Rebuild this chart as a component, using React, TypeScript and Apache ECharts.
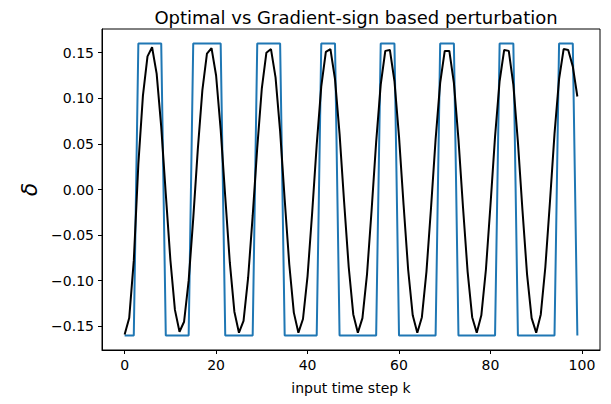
import React, { useEffect, useRef } from "react";
import * as echarts from "echarts";

// input time steps k = 0..99
const steps: number[] = Array.from({ length: 100 }, (_, i) => i);

// optimal perturbation (black curve)
const optimal: number[] = [
  -0.159, -0.141, -0.078, 0.028, 0.103, 0.146, 0.156, 0.127, 0.069, -0.005,
  -0.077, -0.132, -0.156, -0.145, -0.1, -0.032, 0.044, 0.109, 0.149, 0.155,
  0.125, 0.066, -0.008, -0.08, -0.134, -0.157, -0.144, -0.097, -0.029, 0.046,
  0.111, 0.15, 0.154, 0.123, 0.064, -0.011, -0.082, -0.135, -0.157, -0.142,
  -0.095, -0.026, 0.049, 0.113, 0.151, 0.154, 0.121, 0.061, -0.014, -0.085,
  -0.137, -0.157, -0.141, -0.093, -0.023, 0.052, 0.115, 0.152, 0.153, 0.119,
  0.058, -0.017, -0.088, -0.138, -0.157, -0.14, -0.09, -0.02, 0.055, 0.117,
  0.152, 0.152, 0.117, 0.055, -0.02, -0.09, -0.14, -0.157, -0.138, -0.088,
  -0.017, 0.058, 0.119, 0.153, 0.152, 0.115, 0.052, -0.023, -0.093, -0.141,
  -0.157, -0.137, -0.085, -0.014, 0.061, 0.121, 0.154, 0.153, 0.135, 0.102,
];

// gradient-sign perturbation (blue square wave)
const gradientSign: number[] = [
  -0.16, -0.16, -0.16, 0.16, 0.16, 0.16, 0.16, 0.16, 0.16, -0.16,
  -0.16, -0.16, -0.16, -0.16, -0.16, 0.16, 0.16, 0.16, 0.16, 0.16,
  0.16, 0.16, -0.16, -0.16, -0.16, -0.16, -0.16, -0.16, -0.16, 0.16,
  0.16, 0.16, 0.16, 0.16, 0.16, -0.16, -0.16, -0.16, -0.16, -0.16,
  -0.16, -0.16, -0.16, 0.16, 0.16, 0.16, 0.16, -0.16, -0.16, -0.16,
  -0.16, -0.16, -0.16, -0.16, -0.16, -0.16, 0.16, 0.16, 0.16, 0.16,
  -0.16, -0.16, -0.16, -0.16, -0.16, -0.16, -0.16, -0.16, -0.16, 0.16,
  0.16, 0.16, 0.16, -0.16, -0.16, -0.16, -0.16, -0.16, -0.16, -0.16,
  -0.16, -0.16, 0.16, 0.16, 0.16, 0.16, -0.16, -0.16, -0.16, -0.16,
  -0.16, -0.16, -0.16, -0.16, -0.16, 0.16, 0.16, 0.16, 0.16, -0.16,
];

const xTicks: number[] = [0, 20, 40, 60, 80, 100];
const yTicks: number[] = [-0.15, -0.1, -0.05, 0, 0.05, 0.1, 0.15];

const FONT = "DejaVu Sans";

export default function App() {
  const ref = useRef<HTMLDivElement>(null);
  useEffect(() => {
    if (!ref.current) return;
    const chart = echarts.init(ref.current, null, { renderer: "svg" });
    const tickText = { color: "#000", fontSize: 14, fontFamily: FONT };
    chart.setOption({
      animation: false,
      title: {
        text: "Optimal vs Gradient-sign based perturbation",
        left: 351,
        top: 3,
        textAlign: "center",
        textStyle: { fontFamily: FONT, fontSize: 18, fontWeight: "normal", color: "#000" },
      },
      grid: {
        left: 102,
        right: 11,
        top: 29,
        bottom: 54,
        show: true,
        borderColor: "#000",
        borderWidth: 1,
        backgroundColor: "transparent",
      },
      xAxis: {
        type: "value",
        min: -4.95,
        max: 103.95,
        splitLine: { show: false },
        axisLine: { show: true, onZero: false, lineStyle: { color: "#000", width: 1 } },
        axisTick: { show: true, length: 4, customValues: xTicks, lineStyle: { color: "#000" } },
        axisLabel: { customValues: xTicks, margin: 8, ...tickText },
        name: "input time step k",
        nameLocation: "middle",
        nameGap: 31,
        nameTextStyle: { ...tickText },
      },
      yAxis: {
        type: "value",
        min: -0.176,
        max: 0.176,
        splitLine: { show: false },
        axisLine: { show: true, onZero: false, lineStyle: { color: "#000", width: 1 } },
        axisTick: { show: true, length: 4, customValues: yTicks, lineStyle: { color: "#000" } },
        axisLabel: {
          customValues: yTicks,
          margin: 8,
          ...tickText,
          formatter: (v: number) => v.toFixed(2).replace("-", "\u2212"),
        },
        name: "δ",
        nameLocation: "middle",
        nameGap: 52,
        nameRotate: 90,
        nameTextStyle: { color: "#000", fontSize: 22, fontStyle: "italic", fontFamily: FONT },
      },
      series: [
        {
          type: "line",
          data: steps.map((k, i) => [k, gradientSign[i]]),
          symbol: "none",
          lineStyle: { color: "#1f77b4", width: 2 },
          z: 2,
        },
        {
          type: "line",
          data: steps.map((k, i) => [k, optimal[i]]),
          symbol: "none",
          lineStyle: { color: "#000", width: 2 },
          z: 3,
        },
      ],
    });
    return () => chart.dispose();
  }, []);
  return (
    <div
      ref={ref}
      style={{ position: "fixed", left: 0, top: 0, width: 611, height: 404, background: "#fff" }}
    />
  );
}
